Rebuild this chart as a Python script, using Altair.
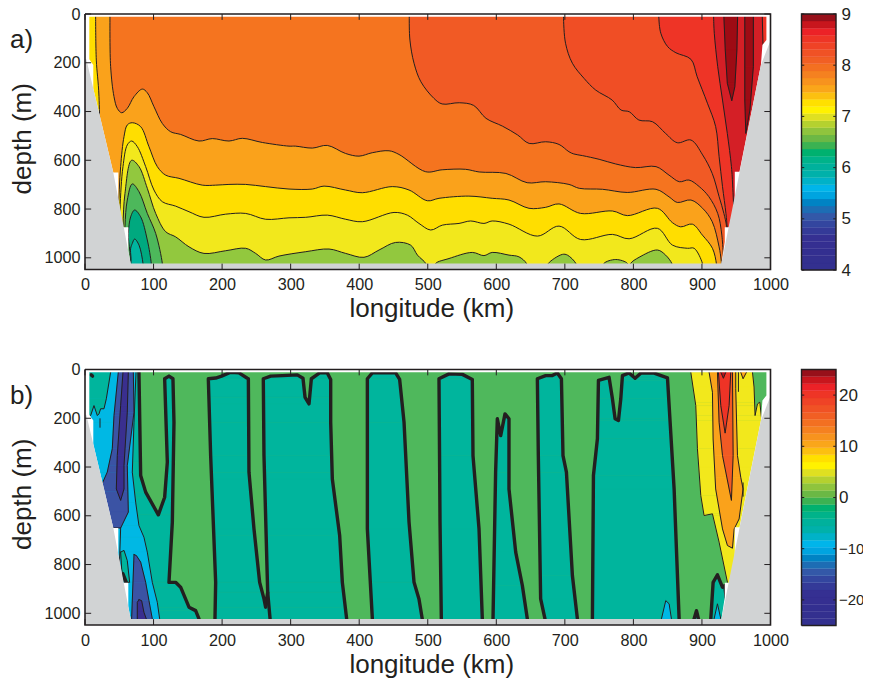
import altair as alt
import pandas as pd

FONT = "Liberation Sans"
INK = "#231f20"
DMAX = 1048
W, H = 685.5, 255.5

X_TICKS = [0, 100, 200, 300, 400, 500, 600, 700, 800, 900, 1000]
Y_TICKS = [0, 200, 400, 600, 800, 1000]
BAR_COLORS = ["#33308f", "#33308f", "#332f90", "#352f91", "#353092", "#343a98", "#33469f", "#3358a8", "#1d6db4",
              "#0083c4", "#00a4e0", "#00b5ea", "#00b2c8", "#00b1aa", "#00b19c", "#00b38a", "#00b16f", "#3bb252",
              "#6bb845", "#8fc43d", "#b5d12f", "#dfe021", "#fff200", "#ffe000", "#fcc010", "#faa61a", "#f7931e",
              "#f58120", "#f37021", "#f15f24", "#f05225", "#ef4326", "#ee3526", "#ec2227", "#c8161d", "#97101a"]

# Shelf outline and the staircase edge of the gridded data
SHELF = [(0, 186), (1.9, 186), (41.3, 650), (66.6, 1023), (928.4, 1023), (986, 209), (999, 116), (1000, 116)]
STAIR_L = [(0, 0), (6.3, 0), (6.3, 186), (12.1, 209), (12.1, 306), (41.3, 650), (48.6, 650), (48.6, 760),
           (55.4, 875), (63.2, 875), (63.2, 972), (66.6, 1023)]
STAIR_R = [(928.4, 1023), (933.3, 934), (933.3, 875), (939.6, 875), (947.9, 773), (947.9, 647), (954.7, 647),
           (986, 209), (988.2, 127), (994, 107), (994, 0), (1000, 0)]
TOP_STRIP = [(0, 11), (1000, 11)]

# Panel a: isotherms, warm to cool; everything below a curve takes the colour
A_K = [(0, 0), (917, 0), (917, 11), (918, 79), (923, 216), (930, 353), (937, 490), (943, 626), (945, 715), (950, 1046)]
A_J = [(0, 0), (837, 0), (837, 11), (840, 79), (850, 134), (862, 159), (884, 186), (893, 257), (908, 366), (920, 462),
       (925, 585), (930, 708), (935, 818), (937, 880), (942, 1046)]
A_I = [(0, 0), (698, 0), (698, 11), (701, 120), (711, 202), (728, 264), (745, 312), (769, 353), (782, 394), (794, 401),
       (808, 435), (828, 442), (847, 490), (864, 528), (884, 517), (901, 578), (915, 654), (925, 749), (932, 818),
       (936, 873), (940, 1046)]
A_H = [(0, 0), (473, 0), (473, 11), (474, 107), (480, 202), (490, 278), (509, 346), (521, 369), (546, 364), (567, 375),
       (585, 428), (609, 460), (631, 496), (648, 531), (672, 524), (691.5, 535), (706, 565), (713, 574), (726, 581),
       (750, 596), (774, 615), (803, 630), (833, 626), (852, 661), (867, 688), (881, 681), (896, 708), (910, 749),
       (923, 818), (929, 907), (932, 1046)]
A_C1 = [(0, 0), (36.4, 0), (36.4, 11), (37.4, 216), (42.3, 339), (47.1, 387), (53.5, 405), (61.7, 387), (71.5, 339),
        (83.6, 308), (90.9, 323), (100.6, 380), (112.8, 449), (125, 483), (139.5, 494), (166.3, 521), (185.7, 511),
        (210, 521), (229.5, 510), (258.7, 527), (297.6, 542), (307, 542), (331.6, 550), (353.5, 539), (380, 572),
        (399.7, 583), (419, 569), (443.5, 561), (458, 576), (497, 647), (521, 639), (555, 637), (575, 648), (614, 654),
        (645, 692), (672, 688), (706, 699), (721, 715), (755, 719), (791, 732), (833, 719), (852, 750), (864, 773),
        (884, 763), (901, 797), (915, 852), (925, 955), (928, 1009), (929, 1046)]
A_C2 = [(0, 1040), (46, 1040), (48.6, 818), (52, 626), (56.9, 503), (61.7, 455), (69, 446), (81.2, 462), (93.3, 544),
        (105.5, 626), (117.7, 661), (137.1, 674), (171.1, 702), (190.6, 702), (210, 699), (234.4, 699), (263.5, 708),
        (297.6, 718), (331.6, 718), (348.7, 706), (380, 722), (404.6, 733), (448.3, 708), (472.7, 722), (499.4, 766),
        (516.4, 756), (560, 747), (594, 756), (618.5, 763), (647.7, 797), (672, 793), (691.5, 779), (723, 818),
        (769.4, 808), (791.3, 827), (835, 797), (857, 856), (869, 873), (886, 862), (900.7, 907), (915.3, 961),
        (921, 1023), (921, 1040), (925, 1046)]
A_STRIP = [(0, 0), (15.5, 0), (15.5, 11), (16.5, 189), (20.4, 339), (23, 1046)]
A_C3 = [(0, 1040), (50, 1040), (51, 804), (55.4, 626), (61.7, 537), (68, 521), (76.3, 544), (88.5, 626), (100.6, 722),
        (112.8, 770), (132.2, 788), (151.7, 811), (173.6, 834), (205.2, 821), (234.4, 818), (263.5, 842), (297.6, 836),
        (322, 834), (353.5, 825), (380.3, 842), (404.6, 852), (450.8, 814), (470.2, 825), (487.2, 859), (504.3, 886),
        (521.3, 866), (545.6, 859), (562.6, 849), (582, 859), (594, 849), (618.5, 862), (660, 911), (691.5, 870),
        (723, 925), (769.4, 904), (793.7, 922), (835, 879), (857, 948), (879, 961), (888.6, 961), (900.7, 1023),
        (901, 1040)]
A_C4 = [(0, 1040), (55, 1040), (55.4, 873), (58.3, 736), (68, 600), (78.8, 626), (90.9, 715), (103.1, 818), (117.7, 893),
        (132.2, 914), (151.7, 955), (173.6, 982), (205.2, 971), (234.4, 961), (249, 982), (263.5, 1009), (283, 993),
        (322, 975), (356, 964), (380.3, 982), (407, 998), (429, 968), (453, 937), (475, 948), (485, 989), (497, 1023),
        (498, 1040), (510.6, 1040), (511.6, 1023), (531, 1003), (565, 978), (582, 991), (594, 978), (618.5, 989),
        (633, 996), (644, 1023), (645, 1040), (674.5, 1040), (676, 1023), (696.4, 986), (703.8, 989), (716, 1023),
        (717, 1040), (756.3, 1040), (757, 1023), (774.3, 1007), (791.3, 1023), (792, 1040), (795, 1040), (796, 1023),
        (808.3, 998), (835, 968), (847, 989), (856, 1023), (857, 1040)]
A_C5 = [(0, 1040), (58, 1040), (58.3, 873), (61.7, 763), (69, 697), (78.8, 729), (90.9, 818), (103.1, 900), (112.8, 1023),
        (113, 1046)]
A_C6 = [(0, 1040), (62, 1040), (63.2, 900), (66.6, 832), (72.4, 804), (81.2, 832), (90.9, 927), (96.7, 1023), (97, 1046)]
A_C7 = [(0, 1040), (64, 1040), (66.6, 961), (69, 941), (72.4, 923), (78.8, 948), (84.6, 1023), (85, 1046)]
A_BELOW = [(A_K, "#ee3426"), (A_J, "#f04e25"), (A_I, "#f15a25"), (A_H, "#f5741f"), (A_C1, "#faa21b"), (A_C2, "#ffde00"),
           (A_STRIP, "#ffde00"), (A_C3, "#f2e81c"), (A_C4, "#92c83e"), (A_C5, "#4db85b"), (A_C6, "#00a97f"),
           (A_C7, "#00b5a0")]
A_TONGUE = [(932, 0), (932, 11), (934, 148), (937, 284), (943.5, 356), (948, 298), (951, 148), (952, 11), (952, 0)]
A_STRIPE = [(962.5, 0), (962.5, 353), (964, 490), (970, 394), (975, 216), (975, 0)]
A_EDGE = [(988, 0), (988, 11), (989, 120), (992, 200), (1000, 200), (1000, 0)]
A_POLYS = [(A_TONGUE, "#9e0b14"), (A_STRIPE, "#9e0b14"), (A_EDGE, "#ee3426")]

# Panel b: closed regions of the velocity section
GREEN, TEAL, CYAN, BLUE, INDIGO = "#4fb85c", "#00b59d", "#00b8e4", "#3b53a4", "#3a2f8f"
YEL, ORA, ROR, RED, DRK = "#f2e81c", "#faa21b", "#f15a24", "#ee3326", "#b5121b"

B_P0 = [(78.7, 0), (78.7, 11), (81.2, 435), (88.5, 503), (107, 596), (116.2, 524), (120.1, 380), (116.2, 38), (122.5, 27),
        (128.3, 38), (129.8, 216), (127.4, 626), (122.5, 873), (132.2, 873), (139.5, 893), (151.7, 975), (161.4, 989),
        (166.3, 1023), (166.3, 1046), (0, 1046), (0, 0)]
B_P1 = [(189.6, 1046), (189.6, 1023), (190.6, 873), (183.3, 353), (179.9, 38), (190.6, 35), (199.3, 27), (212.5, 11),
        (224.6, 14), (236.8, 36), (238.3, 38), (239.2, 421), (246.5, 654), (254.8, 873), (261.1, 941), (263.5, 975),
        (266.5, 914), (261.1, 353), (260.1, 38), (270.8, 27), (287.9, 25), (309.7, 22), (318, 36), (321, 114),
        (326.8, 141), (330.2, 38), (342.3, 14), (353.5, 14), (358.4, 41), (358.4, 216), (360.8, 449), (371.5, 681),
        (375.4, 873), (381.7, 1023), (381.7, 1046)]
B_P2 = [(419.2, 1046), (419.2, 1023), (411.9, 654), (411.9, 38), (419.2, 14), (453.2, 14), (459, 41), (465.4, 216),
        (472.7, 626), (480, 873), (487.2, 941), (492, 1023), (492, 1046)]
B_P3 = [(519.8, 1046), (519.8, 1023), (517.9, 626), (516.4, 38), (531, 18), (550.5, 20), (565, 41), (566, 353),
        (574.8, 654), (579.6, 1023), (579.6, 1046)]
B_P4 = [(595.2, 1046), (595.2, 1023), (599, 421), (601.5, 202), (606.4, 271), (612.7, 182), (618.5, 202), (618.5, 490),
        (628.3, 749), (638, 886), (645.3, 1023), (645.3, 1046)]
B_P5 = [(671, 1046), (671, 1023), (664.7, 941), (661.3, 353), (659.9, 38), (672, 25), (681.8, 25), (689, 14), (695, 38),
        (697.3, 353), (702.3, 421), (711, 845), (718.3, 1023), (718.3, 1046)]
B_P6 = [(740.2, 1046), (740.2, 1023), (741.7, 435), (747.5, 284), (749, 45), (764.5, 32), (769.4, 120), (773.3, 202),
        (778.2, 209), (781.6, 120), (784, 25), (793.7, 14), (802.5, 36), (810.7, 15), (830.2, 15), (849.7, 34),
        (859.4, 490), (866.7, 1023), (866.7, 1046)]
B_P7 = [(888.5, 1046), (888.5, 1023), (892, 989), (894.9, 1023), (894.9, 1046)]
B_P8 = [(912.9, 1046), (912.9, 1023), (916.3, 873), (922.6, 842), (929.9, 893), (933.3, 886), (940, 1046)]
B_THICK = [B_P0, B_P1, B_P2, B_P3, B_P4, B_P5, B_P6, B_P7, B_P8]
B_SEG = [[(266.5, 914), (270, 1023)], [(9, 22), (11, 27)], [(55.4, 838), (60.3, 873)]]
B_THIN_SEG = [[(21.9, 202), (21.9, 237)], [(52, 650), (50, 818)], [(953.2, 11), (953.2, 90)], [(960, 465), (960, 520)]]

B_CYAN = [(0, 0), (74.4, 0), (74.4, 11), (71.5, 216), (69, 421), (73.9, 544), (78.7, 640), (86, 688), (90.9, 749),
          (98.2, 873), (105.5, 955), (108.9, 1023), (108.9, 1046), (0, 1046)]
B_TL = [(0, 0), (37.4, 0), (37.4, 11), (31.1, 120), (27.7, 161), (22.8, 161), (20.4, 182), (18, 189), (13.1, 148),
        (8.2, 189), (0, 189)]
B_BLUE = [(48.6, 0), (48.6, 11), (42.3, 189), (39.8, 325), (32.5, 421), (20, 500), (20, 650), (52, 650), (63.2, 585),
          (61.7, 394), (71.5, 175), (70.5, 11), (70.5, 0)]
B_INDIGO = [(55.4, 0), (55.4, 11), (52, 148), (47.1, 353), (45.7, 490), (52, 537), (56.9, 490), (56.9, 394), (61.7, 175),
            (63.2, 11), (63.2, 0)]
B_SMALL = [(52, 749), (56.9, 742), (61.7, 784), (65.1, 873), (56.9, 873), (53.5, 818)]
B_BLUE2 = [(71.5, 759), (74.9, 763), (81.2, 790), (88.5, 873), (93.3, 948), (98.2, 1023), (98.2, 1046), (68, 1046), (68, 1023)]
B_INDIGO2 = [(78.7, 944), (82.6, 948), (86, 996), (89.4, 1023), (89.4, 1046), (76.3, 1046), (76.3, 955)]
B_C1 = [(840.9, 1046), (840.9, 1023), (847.2, 948), (852.1, 961), (855.5, 1023), (855.5, 1046)]
B_C2 = [(917.7, 1046), (917.7, 1023), (922.6, 961), (927.5, 1023), (927.5, 1046)]
B_YEL = [(883.7, 0), (883.7, 11), (891, 148), (893.4, 325), (898.3, 517), (903.1, 599), (915.3, 592), (925, 708),
         (937.2, 873), (940, 900), (1000, 400), (1000, 209), (987.3, 209), (984.4, 134), (981, 141), (977.5, 189), (976, 72),
         (973.7, 11), (973.7, 0)]
B_ORA = [(910.4, 0), (910.4, 11), (915.3, 93), (916.3, 285), (920, 490), (930, 654), (937.2, 722), (944.5, 733),
         (947, 654), (954.2, 613), (960, 490), (956.6, 442), (951.8, 353), (949.3, 79), (949.3, 0)]
B_ROR = [(922.6, 0), (922.6, 11), (925, 216), (930, 353), (943, 537), (945.5, 353), (944.5, 11), (944.5, 0)]
B_RED = [(924, 0), (924, 11), (927.5, 148), (933.8, 261), (939.6, 148), (942, 11), (942, 0)]
B_DRK = [(927.5, 0), (927.5, 11), (931.3, 36), (934.8, 11), (934.8, 0)]
B_WEDGE = [(956.6, 0), (956.6, 11), (960, 38), (965, 11), (965, 0)]
B_THIN = [(B_CYAN, CYAN), (B_TL, TEAL), (B_BLUE, BLUE), (B_INDIGO, INDIGO), (B_SMALL, TEAL), (B_BLUE2, BLUE),
          (B_INDIGO2, INDIGO), (B_C1, CYAN), (B_YEL, YEL), (B_ORA, ORA), (B_WEDGE, ORA), (B_ROR, ROR), (B_RED, RED),
          (B_DRK, DRK)]
B_LATE = [(B_C2, CYAN)]

xs = alt.Scale(domain=[0, 1000], nice=False, zero=False)
ys = alt.Scale(domain=[0, DMAX], reverse=True, nice=False, zero=False)
X_AXIS = alt.Axis(values=X_TICKS, grid=False, ticks=False, domain=False, labelFont=FONT, labelFontSize=16.2, format="d",
                  labelColor=INK, labelPadding=7, labelFlush=False, labelOverlap=False, titleFont=FONT,
                  titleFontSize=26, titleFontWeight="normal", titleColor=INK, titlePadding=3, titleX=W / 2 + 3.5)
Y_AXIS = alt.Axis(values=Y_TICKS, grid=False, ticks=False, domain=False, labelFont=FONT, labelFontSize=16.2, format="d",
                  labelColor=INK, labelPadding=5, labelOverlap=False, titleFont=FONT, titleFontSize=26,
                  titleFontWeight="normal", titleColor=INK, titlePadding=8, titleY=H / 2 - 3.5)
X = alt.X("x:Q", scale=xs, axis=X_AXIS, title="longitude (km)")
Y = alt.Y("y:Q", scale=ys, axis=Y_AXIS, title="depth (m)")
SMOOTH = "catmull-rom"


def frame(points):
    return pd.DataFrame([{"i": i, "x": p[0], "y": p[1], "b": DMAX} for i, p in enumerate(points)])


def below(points, color, curve="linear"):
    return alt.Chart(frame(points)).mark_area(color=color, orient="vertical", interpolate=curve, clip=True).encode(
        x=X, y=Y, y2=alt.Y2("b:Q"))


def outline(points, width=1.0, closed=False, curve="linear"):
    pts = list(points) + ([points[0]] if closed else [])
    return alt.Chart(frame(pts)).mark_line(color=INK, strokeWidth=width, interpolate=curve, clip=True,
                                           strokeJoin="round", strokeCap="round").encode(
        x=X, y=Y, order=alt.Order("i:Q"))


def traps(poly):
    """Split a closed outline into horizontal bands, so that the area mark can fill it."""
    levels = sorted({p[1] for p in poly})
    edges = [(poly[i], poly[(i + 1) % len(poly)]) for i in range(len(poly))]
    rows, t = [], 0
    for y0, y1 in zip(levels, levels[1:]):
        hits = []
        for a, b in edges:
            if a[1] == b[1] or min(a[1], b[1]) > y0 or max(a[1], b[1]) < y1:
                continue
            at = lambda v: a[0] + (b[0] - a[0]) * (v - a[1]) / (b[1] - a[1])
            hits.append((at((y0 + y1) / 2), at(y0), at(y1)))
        hits.sort()
        for l, r in zip(hits[0::2], hits[1::2]):
            rows.append({"t": t, "y": y0, "xa": l[1], "xb": r[1]})
            rows.append({"t": t, "y": y1, "xa": l[2], "xb": r[2]})
            t += 1
    return pd.DataFrame(rows)


def fill(poly, color):
    return alt.Chart(traps(poly)).mark_area(color=color, stroke=color, strokeWidth=0.4, orient="horizontal",
                                            clip=True).encode(
        y=Y, x=alt.X("xa:Q", scale=xs, axis=X_AXIS, title="longitude (km)"), x2=alt.X2("xb:Q"), detail="t:N")


def masks():
    return [
        alt.Chart(pd.DataFrame({"x": [p[0] for p in TOP_STRIP], "y": [0, 0], "b": [p[1] for p in TOP_STRIP]}))
        .mark_area(color="white", orient="vertical").encode(x=X, y=Y, y2=alt.Y2("b:Q")),
        below(STAIR_L, "white"), below(STAIR_R, "white"), below(SHELF, "#d1d3d4"),
    ]


def decor(label):
    rows = []
    for v in X_TICKS:
        rows += [dict(x=v, x2=v, y=0, y2=24), dict(x=v, x2=v, y=DMAX - 24, y2=DMAX)]
    for v in Y_TICKS:
        rows += [dict(x=0, x2=9, y=v, y2=v), dict(x=991, x2=1000, y=v, y2=v)]
    ticks = alt.Chart(pd.DataFrame(rows)).mark_rule(color=INK, strokeWidth=1).encode(
        x=X, x2=alt.X2("x2:Q"), y=Y, y2=alt.Y2("y2:Q"))
    box = alt.Chart(frame([(0, 0), (1000, 0), (1000, DMAX), (0, DMAX), (0, 0)])).mark_line(
        color=INK, strokeWidth=1.6, clip=False).encode(x=X, y=Y, order=alt.Order("i:Q"))
    tag = alt.Chart(pd.DataFrame({"t": [label]})).mark_text(
        font=FONT, fontSize=26, color=INK, align="left", baseline="middle").encode(
        x=alt.value(-75), y=alt.value(26), text="t:N")
    return [ticks, box, tag]


def colorbar(lo, hi, ticks, pad):
    step = (hi - lo) / len(BAR_COLORS)
    df = pd.DataFrame({"v0": [lo + i * step for i in range(len(BAR_COLORS))],
                       "v1": [lo + (i + 1) * step for i in range(len(BAR_COLORS))],
                       "a": 0, "e": 1, "c": BAR_COLORS})
    sy = alt.Scale(domain=[lo, hi], nice=False, zero=False)
    sx = alt.Scale(domain=[0, 1], nice=False, zero=False)
    ax = alt.Axis(orient="right", values=ticks, grid=False, ticks=False, domain=False, labelFont=FONT,
                  labelFontSize={"condition": {"test": "datum.value < 0", "value": 15}, "value": 17},
                  labelColor=INK, labelPadding=pad, labelOverlap=False, labelFlush=False, format="d")
    bands = alt.Chart(df).mark_rect(strokeWidth=0.3).encode(
        x=alt.X("a:Q", scale=sx, axis=None), x2=alt.X2("e:Q"),
        y=alt.Y("v0:Q", scale=sy, axis=ax, title=None), y2=alt.Y2("v1:Q"),
        color=alt.Color("c:N", scale=None), stroke=alt.Stroke("c:N", scale=None))
    rows = []
    for v in ticks:
        rows += [dict(a=0, e=0.08, v=v), dict(a=0.92, e=1, v=v)]
    tk = alt.Chart(pd.DataFrame(rows)).mark_rule(color=INK, strokeWidth=1).encode(
        x=alt.X("a:Q", scale=sx, axis=None), x2=alt.X2("e:Q"), y=alt.Y("v:Q", scale=sy, axis=ax, title=None))
    box = alt.Chart(pd.DataFrame({"i": range(5), "a": [0, 1, 1, 0, 0], "v": [lo, lo, hi, hi, lo]})).mark_line(
        color=INK, strokeWidth=1.4).encode(
        x=alt.X("a:Q", scale=sx, axis=None),
        y=alt.Y("v:Q", scale=sy, axis=ax, title=None),
        order=alt.Order("i:Q"))
    return alt.layer(bands, tk, box).properties(width=34.5, height=H + 0.5)


base_rect = [(0, 0), (1000, 0)]
layers_a = [below(base_rect, "#d41f26")]
for curve, col in A_BELOW[:5]:
    layers_a += [below(curve, col, SMOOTH), outline(curve, curve=SMOOTH)]
for poly, col in A_POLYS:
    layers_a += [fill(poly, col), outline(poly, closed=True)]
for curve, col in A_BELOW[5:]:
    layers_a += [below(curve, col, SMOOTH), outline(curve, curve=SMOOTH)]
layers_a += masks() + decor("a)")
panel_a = alt.layer(*layers_a).properties(width=W, height=H)

layers_b = [below(base_rect, GREEN), fill(B_P0, TEAL), outline(B_P0, 3.4)]
for poly in B_THICK[1:]:
    layers_b += [fill(poly, TEAL), outline(poly, 3.4)]
for poly, col in B_THIN + B_LATE:
    layers_b += [fill(poly, col), outline(poly, 1.0, closed=True)]
for seg in B_SEG:
    layers_b.append(outline(seg, 3.4))
for seg in B_THIN_SEG:
    layers_b.append(outline(seg, 1.0))
layers_b += masks() + decor("b)")
panel_b = alt.layer(*layers_b).properties(width=W, height=H)

chart = alt.concat(
    panel_a, colorbar(4, 9, [4, 5, 6, 7, 8, 9], 5),
    panel_b, colorbar(-25, 25, [-20, -10, 0, 10, 20], 2.5),
    columns=2, bounds="flush", align="each", spacing={"row": 99.5, "column": 30.5},
).properties(padding={"left": 1, "top": -3, "right": -1, "bottom": 0}).configure_view(stroke=None)

chart.save("out.html", embed_options={"renderer": "svg", "actions": False})
